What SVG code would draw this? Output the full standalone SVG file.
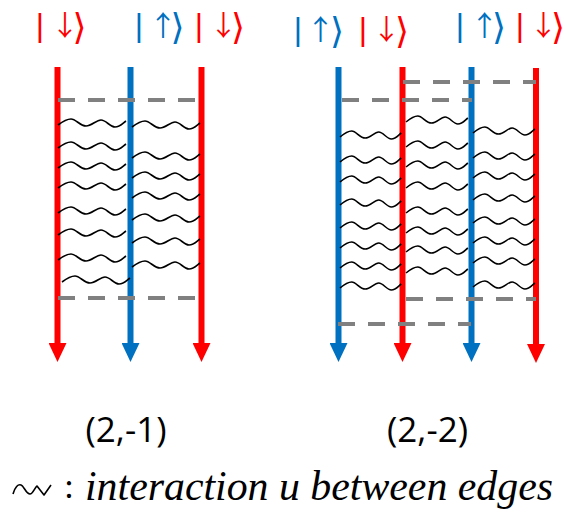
<svg xmlns="http://www.w3.org/2000/svg" xmlns:xlink="http://www.w3.org/1999/xlink" width="566" height="512" viewBox="0 0 566 512">
<style>
.edge{fill:none;stroke-width:6}
.red{stroke:#FF0000}
.blue{stroke:#0070C0}
.dash{fill:none;stroke:#808080;stroke-width:4;stroke-dasharray:17 13}
.wave{fill:none;stroke:#000;stroke-width:1.6;vector-effect:non-scaling-stroke}
.ket{font-family:"Liberation Sans",sans-serif;font-size:32px}
.arr{font-family:"Noto Sans CJK JP","DejaVu Sans",sans-serif;font-size:28px;letter-spacing:-9px}
.br{font-family:"DejaVu Sans",sans-serif;font-size:36px}
.kr{fill:#FF0000}
.kb{fill:#0070C0}
.lbl{font-family:"Open Sans","Noto Sans",sans-serif;font-size:35px;fill:#000;text-anchor:middle}
.leg{font-family:"Liberation Serif",serif;font-size:42px;font-style:italic;fill:#000}
</style>
<defs>
<marker id="ar" viewBox="0 -9 19 18" refX="1" refY="0" markerWidth="19" markerHeight="18" markerUnits="userSpaceOnUse" orient="auto">
<path d="M0,-9 L19,0 L0,9 z" fill="#FF0000"/>
</marker>
<marker id="ab" viewBox="0 -9 19 18" refX="1" refY="0" markerWidth="19" markerHeight="18" markerUnits="userSpaceOnUse" orient="auto">
<path d="M0,-9 L19,0 L0,9 z" fill="#0070C0"/>
</marker>
<path id="w" class="wave" d="M0,0 C4,-3 8,-6 13,-6 S22,1 28,1 S38,-5 43,-5 S52,2 57,2 S65,-2 68,-4"/>
</defs>

<!-- left diagram (2,-1) -->
<g id="left-edges">
<g id="L1"><line class="edge red" x1="57.5" y1="67" x2="57.5" y2="344" marker-end="url(#ar)"/>
<text class="ket kr"><tspan x="35.85" y="36">|</tspan><tspan class="arr" x="51" y="36">↓</tspan><tspan class="br" x="72.5" y="38.5">⟩</tspan></text></g>
<g id="L2"><line class="edge blue" x1="130.5" y1="67" x2="130.5" y2="344" marker-end="url(#ab)"/>
<text class="ket kb"><tspan x="134.85" y="36">|</tspan><tspan class="arr" x="149" y="36">↑</tspan><tspan class="br" x="170.5" y="38.5">⟩</tspan></text></g>
<g id="L3"><line class="edge red" x1="201.5" y1="67" x2="201.5" y2="344" marker-end="url(#ar)"/>
<text class="ket kr"><tspan x="194.85" y="36">|</tspan><tspan class="arr" x="209.5" y="36">↓</tspan><tspan class="br" x="231" y="38.5">⟩</tspan></text></g>
</g>

<!-- right diagram (2,-2) -->
<g id="right-edges">
<g id="R1"><line class="edge blue" x1="338.5" y1="67" x2="338.5" y2="344" marker-end="url(#ab)"/>
<text class="ket kb"><tspan x="293.85" y="40">|</tspan><tspan class="arr" x="306.5" y="40">↑</tspan><tspan class="br" x="330" y="42.5">⟩</tspan></text></g>
<g id="R2"><line class="edge red" x1="402.5" y1="67" x2="402.5" y2="344" marker-end="url(#ar)"/>
<text class="ket kr"><tspan x="358.85" y="40">|</tspan><tspan class="arr" x="372.5" y="40">↓</tspan><tspan class="br" x="395" y="42.5">⟩</tspan></text></g>
<g id="R3"><line class="edge blue" x1="471.5" y1="67" x2="471.5" y2="344" marker-end="url(#ab)"/>
<text class="ket kb"><tspan x="455.85" y="36">|</tspan><tspan class="arr" x="470.5" y="36">↑</tspan><tspan class="br" x="492" y="38.5">⟩</tspan></text></g>
<g id="R4"><line class="edge red" x1="536" y1="68" x2="536" y2="345" marker-end="url(#ar)"/>
<text class="ket kr"><tspan x="515.85" y="36">|</tspan><tspan class="arr" x="529.5" y="36">↓</tspan><tspan class="br" x="551" y="38.5">⟩</tspan></text></g>
</g>

<!-- time-window boundaries -->
<g id="boundaries">
<line class="dash" x1="58" y1="100" x2="200" y2="100"/>
<line class="dash" x1="58" y1="298" x2="200" y2="298"/>
<line class="dash" x1="403" y1="82" x2="536" y2="82"/>
<line class="dash" x1="342" y1="100" x2="472" y2="100"/>
<line class="dash" x1="406" y1="299" x2="536" y2="299"/>
<line class="dash" x1="338" y1="324" x2="471" y2="324"/>
</g>

<!-- interactions -->
<g id="interactions">
<use xlink:href="#w" transform="translate(58,125)"/>
<use xlink:href="#w" transform="translate(58,148)"/>
<use xlink:href="#w" transform="translate(58,168)"/>
<use xlink:href="#w" transform="translate(58,188)"/>
<use xlink:href="#w" transform="translate(58,213)"/>
<use xlink:href="#w" transform="translate(58,235)"/>
<use xlink:href="#w" transform="translate(58,260)"/>
<use xlink:href="#w" transform="translate(62,282)"/>

<use xlink:href="#w" transform="translate(132,127)"/>
<use xlink:href="#w" transform="translate(132,158)"/>
<use xlink:href="#w" transform="translate(132,178)"/>
<use xlink:href="#w" transform="translate(132,198)"/>
<use xlink:href="#w" transform="translate(132,220)"/>
<use xlink:href="#w" transform="translate(132,243)"/>
<use xlink:href="#w" transform="translate(132,267)"/>

<use xlink:href="#w" transform="translate(340,137) scale(0.9,1)"/>
<use xlink:href="#w" transform="translate(340,162) scale(0.9,1)"/>
<use xlink:href="#w" transform="translate(340,182) scale(0.9,1)"/>
<use xlink:href="#w" transform="translate(340,205) scale(0.9,1)"/>
<use xlink:href="#w" transform="translate(340,228) scale(0.9,1)"/>
<use xlink:href="#w" transform="translate(340,248) scale(0.9,1)"/>
<use xlink:href="#w" transform="translate(340,268) scale(0.9,1)"/>
<use xlink:href="#w" transform="translate(340,288) scale(0.9,1)"/>

<use xlink:href="#w" transform="translate(406,122) scale(0.91,1)"/>
<use xlink:href="#w" transform="translate(406,147) scale(0.91,1)"/>
<use xlink:href="#w" transform="translate(406,167) scale(0.91,1)"/>
<use xlink:href="#w" transform="translate(406,188) scale(0.91,1)"/>
<use xlink:href="#w" transform="translate(406,213) scale(0.91,1)"/>
<use xlink:href="#w" transform="translate(406,233) scale(0.91,1)"/>
<use xlink:href="#w" transform="translate(406,252) scale(0.91,1)"/>
<use xlink:href="#w" transform="translate(406,273) scale(0.91,1)"/>

<use xlink:href="#w" transform="translate(473,133) scale(0.91,1)"/>
<use xlink:href="#w" transform="translate(473,158) scale(0.91,1)"/>
<use xlink:href="#w" transform="translate(473,178) scale(0.91,1)"/>
<use xlink:href="#w" transform="translate(473,200) scale(0.91,1)"/>
<use xlink:href="#w" transform="translate(473,223) scale(0.91,1)"/>
<use xlink:href="#w" transform="translate(473,243) scale(0.91,1)"/>
<use xlink:href="#w" transform="translate(473,263) scale(0.91,1)"/>
<use xlink:href="#w" transform="translate(473,287) scale(0.91,1)"/>
</g>

<g id="captions">
<text class="lbl" x="126" y="442">(2,-1)</text>
<text class="lbl" x="427.5" y="442">(2,-2)</text>
</g>

<g id="legend">
<path d="M13,494 C15,487 18,484 21,485 C24,486 26,494 30,494 C33,494 35,487 37,486 L44,495 L51,485" fill="none" stroke="#000" stroke-width="1.6" stroke-linejoin="round"/>
<text x="64" y="498" font-family="Liberation Serif, serif" font-size="36">:</text>
<text class="leg" x="85" y="500" textLength="468" lengthAdjust="spacingAndGlyphs">interaction u between edges</text>
</g>
</svg>
